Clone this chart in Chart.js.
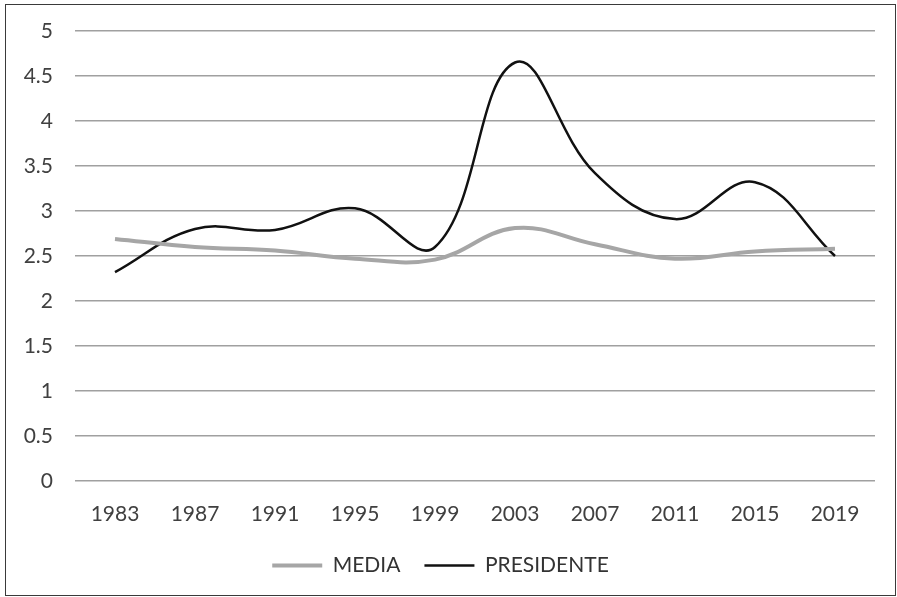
<!DOCTYPE html>
<html>
<head>
<meta charset="utf-8">
<script src="https://cdn.jsdelivr.net/npm/chart.js@4/dist/chart.umd.min.js"></script>
<style>
  html, body { margin: 0; padding: 0; background: #fff; }
  #box { position: absolute; left: 5px; top: 4px; width: 889px; height: 590px; border: 1.5px solid #3a3a3a; }
  canvas { display: block; }
</style>
</head>
<body>
<div id="box"><canvas id="chart_votes" width="889" height="590"></canvas></div>
<script>
const years = ['1983', '1987', '1991', '1995', '1999', '2003', '2007', '2011', '2015', '2019'];
const dataMedia = [2.69, 2.60, 2.56, 2.47, 2.46, 2.81, 2.63, 2.47, 2.55, 2.58];
const dataPresidente = [2.32, 2.80, 2.79, 3.03, 2.60, 4.65, 3.42, 2.91, 3.32, 2.50];

Chart.defaults.font.family = 'Lato, "Open Sans", sans-serif';
Chart.defaults.font.size = 21;
Chart.defaults.color = '#404040';

let ctxVotes = document.getElementById('chart_votes').getContext('2d');
let chartVotes = new Chart(ctxVotes, {
    type: 'line',
    data: {
        labels: years,
        datasets: [{
            label: 'MEDIA',
            data: dataMedia,
            borderColor: '#a6a6a6',
            borderWidth: 4,
            tension: 0.4,
            pointRadius: 0
        }, {
            label: 'PRESIDENTE',
            data: dataPresidente,
            borderColor: '#111111',
            borderWidth: 2.5,
            tension: 0.4,
            pointRadius: 0
        }]
    },
    options: {
        responsive: false,
        animation: false,
        layout: { padding: { top: 26, right: 20, left: 0, bottom: 9 } },
        plugins: {
            tooltip: { enabled: false },
            legend: {
                position: 'bottom',
                labels: {
                    usePointStyle: true,
                    pointStyle: 'line',
                    pointStyleWidth: 50,
                    boxHeight: 4,
                    padding: 24,
                    color: '#333'
                }
            }
        },
        scales: {
            x: {
                offset: true,
                grid: { display: false, drawTicks: false },
                border: { display: false },
                ticks: { padding: 21, maxRotation: 0 },
                afterFit: function(axis) { axis.height = 50; }
            },
            y: {
                min: 0,
                max: 5,
                grid: { color: '#a0a0a0', lineWidth: 1.5, drawTicks: false },
                border: { display: false },
                ticks: {
                    stepSize: 0.5,
                    padding: 22,
                    callback: function(val) { return String(val); }
                },
                afterFit: function(axis) {
                    axis.width = 69;
                    axis.paddingTop = 0;
                    axis.paddingBottom = 0;
                }
            }
        }
    }
});
</script>
</body>
</html>
